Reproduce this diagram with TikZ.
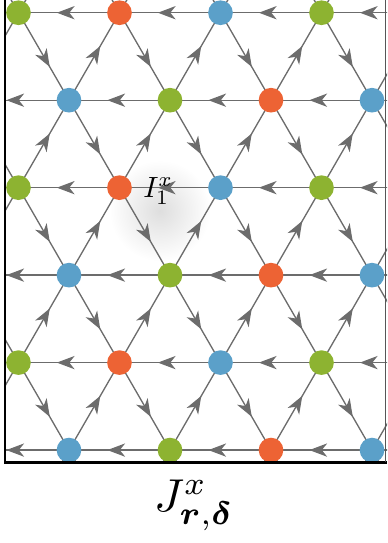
\documentclass[tikz,border=0pt]{standalone}
\usepackage{amsmath}
\usetikzlibrary{arrows.meta,decorations.markings}
\definecolor{site0}{RGB}{141,179,49}
\definecolor{site1}{RGB}{237,99,52}
\definecolor{site2}{RGB}{91,160,201}
\definecolor{bondgray}{RGB}{108,108,108}

\begin{document}
\begin{tikzpicture}[
    x=2cm, y=2cm,
    bond/.style={draw=bondgray, line width=0.75pt, postaction={decorate},
        decoration={markings, mark=at position 0.62 with
            {\arrow[bondgray]{Stealth[length=10pt,width=7.5pt,inset=3pt]}}}},
    site/.style={circle, inner sep=0pt, minimum size=13.9pt},
    frame/.style={line width=1.4pt, line cap=rect}
]
\useasboundingbox (-0.183,-5.250) rectangle (3.649,0.126);

% lattice points (two extra rows/columns round the frame)
\foreach \j in {0,...,7}{
    \foreach \i in {0,...,6}{
        \pgfmathtruncatemacro\odd{mod(\j+1,2)}
        \coordinate (p\i-\j) at ({\i-1+0.5*\odd},{-0.866*(\j-1)});
    }
}

% soft shadow under the label
\shade[inner color=black!13, outer color=white] (1.40,-1.96) circle (0.5);

% bonds
\begin{scope}
    \clip (-0.134,-4.452) rectangle (3.649,0.126);
    \foreach \j in {0,...,7}{
        \foreach \i in {0,...,5}{
            \pgfmathtruncatemacro\odd{mod(\j+1,2)}
            \pgfmathtruncatemacro\k{\i-1}
            \pgfmathtruncatemacro\n{\i+\odd}
            \pgfmathtruncatemacro\up{\j-1}
            \pgfmathtruncatemacro\dn{\j+1}
            \ifnum\i>0 \draw[bond] (p\i-\j) -- (p\k-\j); \fi
            \ifnum\j>0 \draw[bond] (p\i-\j) -- (p\n-\up); \fi
            \ifnum\j<7 \draw[bond] (p\i-\j) -- (p\n-\dn); \fi
        }
    }
\end{scope}

% sites
\foreach \j in {1,...,6}{
    \foreach \i in {1,...,4}{
        \pgfmathtruncatemacro\odd{mod(\j+1,2)}
        \pgfmathtruncatemacro\c{mod(\i-1-\odd+3,3)}
        \node[site, fill=site\c] (s\i-\j) at (p\i-\j) {};
    }
}

% frame
\coordinate (fNW) at (-0.134,0.126);
\coordinate (fSW) at (-0.134,-4.452);
\coordinate (fSE) at (3.636,-4.452);
\coordinate (fNE) at (3.636,0.126);
\draw[frame] (fNW) -- (fSW) -- (fSE);
\draw[bondgray!80!black, line width=0.6pt] (fSE) -- (fNE);

% labels
\node[anchor=base west, inner sep=0pt, scale=1.65]
    (ilab) at (1.23,-1.825) {$I_1^x$};
\node[anchor=base, inner sep=0pt, scale=2.6]
    (jlab) at (1.738,-4.934) {$J^x_{\boldsymbol{r},\boldsymbol{\delta}}$};
\end{tikzpicture}
\end{document}
